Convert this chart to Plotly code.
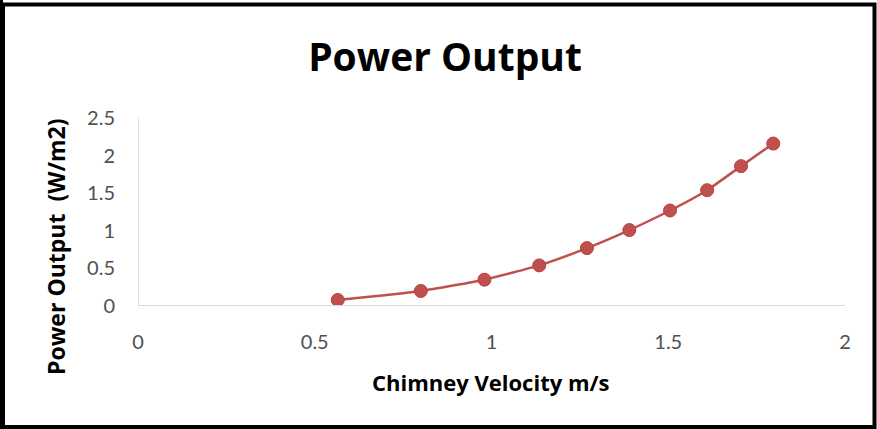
import plotly.graph_objects as go

velocity = [0.565, 0.80, 0.98, 1.135, 1.27, 1.39, 1.505, 1.61, 1.706, 1.797]
power = [0.08, 0.20, 0.35, 0.54, 0.77, 1.01, 1.27, 1.54, 1.86, 2.16]

x_ticks = [0, 0.5, 1, 1.5, 2]
x_tick_labels = ["0", "0.5", "1", "1.5", "2"]
y_ticks = [0, 0.5, 1, 1.5, 2, 2.5]
y_tick_labels = ["0", "0.5", "1", "1.5", "2", "2.5"]

W, H = 877, 429
L, R, T, B = 138, 32, 118, 123
pw, ph = W - L - R, H - T - B

def px(xp):
    return (xp - L) / pw

def py(yp):
    return (H - B - yp) / ph

fig = go.Figure()
fig.add_trace(go.Scatter(
    x=velocity, y=power, mode="lines+markers",
    line=dict(color="#C0504D", width=2.5, shape="spline", smoothing=0.5),
    marker=dict(color="#C0504D", size=13, line=dict(color="#B5413E", width=1)),
    showlegend=False,
))

tick_font = dict(family="Lato, Open Sans, sans-serif", size=20, color="#505050")
title_font = dict(family="Open Sans, sans-serif", size=22, color="black")
fig.update_layout(
    width=W, height=H,
    margin=dict(l=L, r=R, t=T, b=B),
    paper_bgcolor="white", plot_bgcolor="white",
    title=dict(text="<b>Power Output</b>", x=445 / W, xanchor="center", xref="container",
               y=(H - 57) / H, yanchor="middle", yref="container",
               font=dict(family="Open Sans, sans-serif", size=39, color="black")),
    xaxis=dict(range=[0, 2], tickvals=x_ticks, ticktext=x_tick_labels,
               showgrid=False, zeroline=False, showline=False,
               ticks="", ticklabelstandoff=22, tickfont=tick_font),
    yaxis=dict(range=[0, 2.5], tickvals=y_ticks, ticktext=y_tick_labels,
               showgrid=False, zeroline=False, showline=False,
               ticks="", ticklabelstandoff=22, tickfont=tick_font),
)

fig.add_annotation(text="<b>Chimney Velocity m/s</b>", xref="paper", yref="paper",
                   x=px(491), y=py(382), xanchor="center", yanchor="middle",
                   showarrow=False, font=title_font)
fig.add_annotation(text="<b>Power Output  (W/m2)</b>", xref="paper", yref="paper",
                   x=px(56), y=py(247), xanchor="center", yanchor="middle",
                   textangle=-90, showarrow=False,
                   font=dict(family="Open Sans, sans-serif", size=23, color="black"))

# axis lines (light gray) like Excel
fig.add_shape(type="line", xref="paper", yref="y", x0=0, x1=1, y0=0, y1=0,
              line=dict(color="#D9D9D9", width=2))
fig.add_shape(type="line", xref="x", yref="paper", x0=0, x1=0, y0=0, y1=1,
              line=dict(color="#D9D9D9", width=1.5))

# black frame around the whole figure
fig.add_shape(type="rect", xref="paper", yref="paper",
              x0=px(3), x1=px(874.5), y0=py(427), y1=py(4.5),
              line=dict(color="black", width=4), layer="above")
fig.add_shape(type="line", xref="paper", yref="paper",
              x0=px(1.5), x1=px(1.5), y0=py(429), y1=py(0),
              line=dict(color="black", width=3), layer="above")

fig.write_html("out.html")
